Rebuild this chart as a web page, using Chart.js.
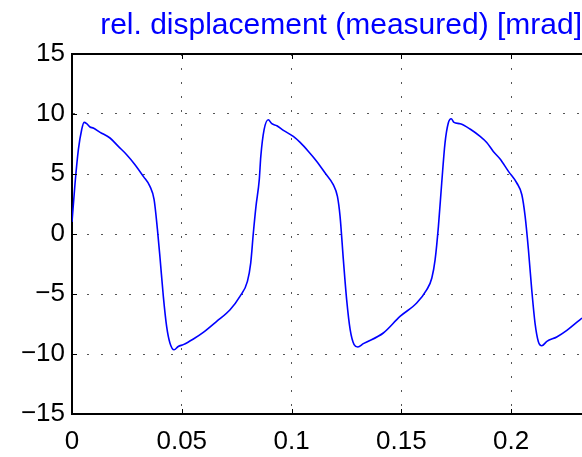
<!DOCTYPE html>
<html>
<head>
<meta charset="utf-8">
<script src="https://cdn.jsdelivr.net/npm/chart.js@4"></script>
<style>
  body { margin: 0; background: #fff; }
  canvas { display: block; }
</style>
</head>
<body>
<canvas id="chart" width="582" height="457"></canvas>
<script>
// 読み取った値 (時間 [s] と 変位 [mrad])
const timeValues = [
  0.0000, 0.0014, 0.0029, 0.0044, 0.0055, 0.0067, 0.0082, 0.0097, 0.0128, 0.0173,
  0.0211, 0.0249, 0.0287, 0.0325, 0.0355, 0.0374, 0.0389, 0.0401, 0.0416, 0.0431,
  0.0446, 0.0465, 0.0484, 0.0507, 0.0553, 0.0598, 0.0659, 0.0720, 0.0765, 0.0799,
  0.0814, 0.0826, 0.0838, 0.0853, 0.0860, 0.0875, 0.0894, 0.0910, 0.0933, 0.0963,
  0.1008, 0.1039, 0.1077, 0.1115, 0.1153, 0.1190, 0.1209, 0.1221, 0.1236, 0.1251,
  0.1267, 0.1285, 0.1302, 0.1327, 0.1418, 0.1494, 0.1570, 0.1616, 0.1639, 0.1654,
  0.1669, 0.1684, 0.1699, 0.1714, 0.1727, 0.1740, 0.1768, 0.1813, 0.1859, 0.1889,
  0.1919, 0.1950, 0.1988, 0.2026, 0.2049, 0.2064, 0.2079, 0.2094, 0.2109, 0.2124,
  0.2140, 0.2163, 0.2208, 0.2254, 0.2323
];
const displacementValues = [
  1.00, 4.25, 7.03, 8.69, 9.30, 9.19, 8.92, 8.83, 8.47, 8.00,
  7.30, 6.61, 5.78, 4.80, 3.97, 2.86, 0.40, -2.00, -5.20, -7.70,
  -9.08, -9.65, -9.37, -9.22, -8.75, -8.20, -7.28, -6.31, -5.20, -3.95,
  -2.42, 0.08, 2.30, 4.53, 6.47, 8.69, 9.52, 9.19, 9.02, 8.63,
  8.13, 7.63, 6.88, 6.05, 5.08, 4.11, 3.13, 1.47, -2.14, -5.47,
  -7.97, -9.22, -9.42, -9.14, -8.25, -6.87, -5.75, -4.64, -3.67, -2.14,
  0.63, 4.25, 7.58, 9.25, 9.61, 9.30, 9.19, 8.75, 8.13, 7.63,
  6.88, 6.25, 5.22, 4.25, 3.27, 1.47, -1.31, -4.64, -7.42, -8.95,
  -9.31, -8.95, -8.58, -8.03, -7.00
];
const xTicks = [0, 0.05, 0.1, 0.15, 0.2];
const yTicks = [-15, -10, -5, 0, 5, 10, 15];
const titleText = 'rel. displacement (measured) [mrad]';

const points = timeValues.map((t, i) => ({ x: t, y: displacementValues[i] }));

const fontFamily = '"Liberation Sans", Arial, Helvetica, sans-serif';

// 上の枠線と内向きの目盛り
const axisDecor = {
  id: 'axisDecor',
  afterDraw(chart) {
    const { ctx, chartArea: a, scales: { x, y } } = chart;
    ctx.save();
    ctx.strokeStyle = '#000';
    ctx.lineWidth = 2;
    ctx.beginPath();
    ctx.moveTo(a.left, a.top);
    ctx.lineTo(a.right, a.top);
    ctx.stroke();
    ctx.lineWidth = 1;
    ctx.beginPath();
    xTicks.forEach(v => {
      const px = Math.round(x.getPixelForValue(v)) + 0.5;
      ctx.moveTo(px, a.bottom); ctx.lineTo(px, a.bottom - 5);
      ctx.moveTo(px, a.top); ctx.lineTo(px, a.top + 5);
    });
    yTicks.forEach(v => {
      const py = Math.round(y.getPixelForValue(v)) + 0.5;
      ctx.moveTo(a.left, py); ctx.lineTo(a.left + 5, py);
    });
    ctx.stroke();
    ctx.restore();
  }
};

new Chart(document.getElementById('chart'), {
  type: 'line',
  data: {
    datasets: [{
      data: points,
      borderColor: '#0000ff',
      borderWidth: 1.6,
      pointRadius: 0,
      fill: false,
      cubicInterpolationMode: 'monotone'
    }]
  },
  plugins: [axisDecor],
  options: {
    responsive: false,
    animation: false,
    layout: { padding: 0 },
    plugins: {
      legend: { display: false },
      tooltip: { enabled: false },
      title: {
        display: true,
        text: titleText,
        color: '#0000ff',
        align: 'end',
        font: { family: fontFamily, size: 30, weight: 'normal', lineHeight: 1.2 },
        padding: { top: 8, bottom: 10 }
      }
    },
    scales: {
      x: {
        type: 'linear',
        min: 0,
        max: 0.2323,
        afterBuildTicks: scale => { scale.ticks = xTicks.map(v => ({ value: v })); },
        afterFit: scale => { scale.height = 43; },
        grid: { color: '#555', lineWidth: 1, drawTicks: false },
        border: { display: true, color: '#000', width: 2, dash: [2, 12] },
        ticks: {
          color: '#000',
          padding: 12,
          maxRotation: 0,
          font: { family: fontFamily, size: 26 },
          callback: v => String(v)
        }
      },
      y: {
        type: 'linear',
        min: -15,
        max: 15,
        afterBuildTicks: scale => { scale.ticks = yTicks.map(v => ({ value: v })); },
        afterFit: scale => { scale.width = 72; },
        grid: { color: '#555', lineWidth: 1, drawTicks: false },
        border: { display: true, color: '#000', width: 2, dash: [2, 12] },
        ticks: {
          color: '#000',
          padding: 7,
          font: { family: fontFamily, size: 26 },
          callback: v => String(v).replace('-', '\u2212')
        }
      }
    }
  }
});
</script>
</body>
</html>
